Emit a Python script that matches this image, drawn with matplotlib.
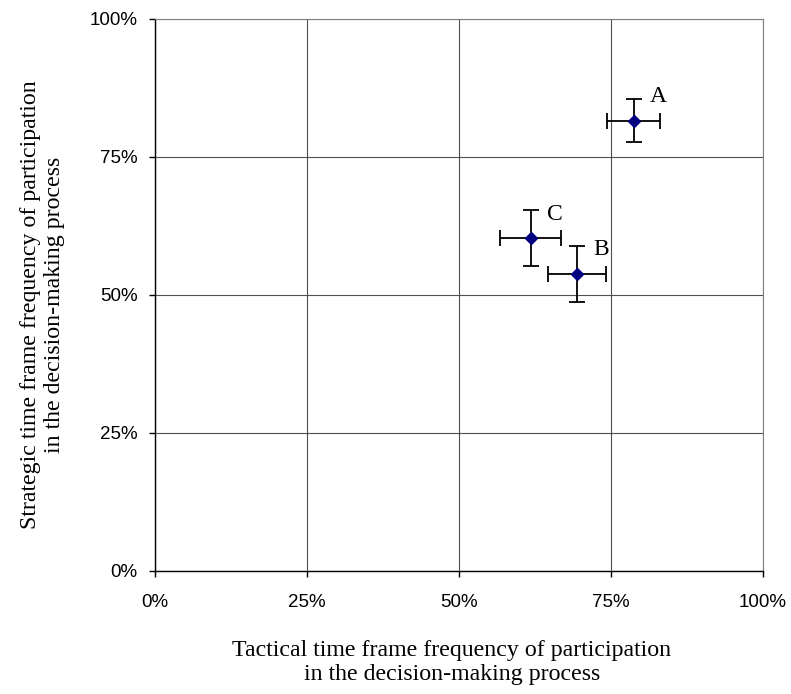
import matplotlib
matplotlib.use("Agg")
import matplotlib.pyplot as plt
from matplotlib.ticker import FuncFormatter

labels = ["A", "B", "C"]
tactical = [78.7, 69.4, 61.8]
strategic = [81.5, 53.7, 60.2]
tactical_err = [4.3, 4.8, 5.0]
strategic_err = [3.9, 5.1, 5.1]
ticks = [0, 25, 50, 75, 100]

fig = plt.figure(figsize=(7.91, 6.94), dpi=100)
ax = fig.add_axes([0.196, 0.1777, 0.7686, 0.7956])

ax.errorbar(tactical, strategic, xerr=tactical_err, yerr=strategic_err,
            fmt='D', color='black', markerfacecolor='#000080', markeredgecolor='#000080',
            markersize=6, ecolor='black', elinewidth=1.3, capsize=6, capthick=1.3, zorder=3)

for lab, x, y in zip(labels, tactical, strategic):
    ax.annotate(lab, (x, y), xytext=(11.5, 13.5), textcoords='offset points',
                family='Liberation Serif', fontsize=17, ha='left', va='baseline')

ax.set_xlim(0, 100)
ax.set_ylim(0, 100)
ax.set_xticks(ticks)
ax.set_yticks(ticks)
fmt = FuncFormatter(lambda v, p: f"{v:.0f}%")
ax.xaxis.set_major_formatter(fmt)
ax.yaxis.set_major_formatter(fmt)
for t in ax.get_xticklabels() + ax.get_yticklabels():
    t.set_family('Liberation Sans')
    t.set_fontsize(13.5)
ax.tick_params(direction='out', length=4.5, width=1)
ax.tick_params(axis='x', pad=12)
ax.tick_params(axis='y', pad=8)
ax.grid(True, color='#505050', linewidth=0.8)
ax.set_axisbelow(True)
for s in ['top', 'right']:
    ax.spines[s].set_color('#808080')
    ax.spines[s].set_linewidth(0.8)
for s in ['left', 'bottom']:
    ax.spines[s].set_color('black')
    ax.spines[s].set_linewidth(1.0)

ax.set_xlabel("Tactical time frame frequency of participation\nin the decision-making process",
              family='Liberation Serif', fontsize=17.2, linespacing=1.2)
ax.set_ylabel("Strategic time frame frequency of participation\nin the decision-making process",
              family='Liberation Serif', fontsize=17.2, linespacing=1.2)
ax.xaxis.set_label_coords(0.4885, -0.125)
ax.yaxis.set_label_coords(-0.148, 0.481)

fig.savefig("out.png", dpi=100)
